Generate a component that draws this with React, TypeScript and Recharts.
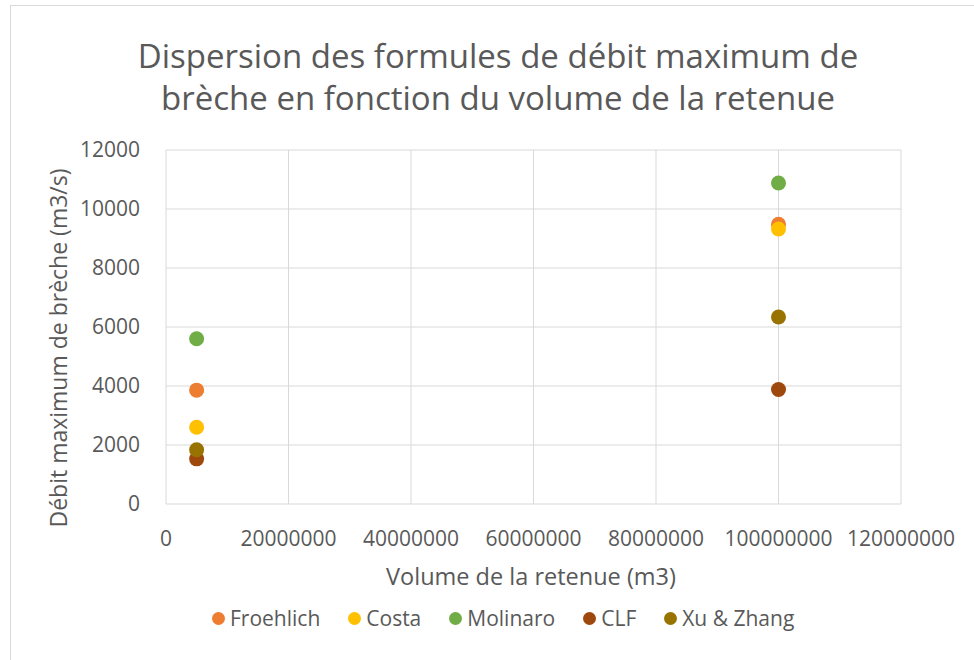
import React from "react";
import {
  ScatterChart,
  Scatter,
  XAxis,
  YAxis,
  CartesianGrid,
  Legend,
} from "recharts";

// volume de la retenue (m3)
const volumes = [5000000, 100000000];

// débit maximum de brèche (m3/s) par formule
const froehlich = [3860, 9480];
const costa = [2600, 9320];
const molinaro = [5600, 10880];
const clf = [1530, 3880];
const xuZhang = [1840, 6340];

const xTicks = [0, 20000000, 40000000, 60000000, 80000000, 100000000, 120000000];
const yTicks = [0, 2000, 4000, 6000, 8000, 10000, 12000];

const series = [
  { name: "Froehlich", values: froehlich, color: "#ED7D31" },
  { name: "Costa", values: costa, color: "#FFC000" },
  { name: "Molinaro", values: molinaro, color: "#70AD47" },
  { name: "CLF", values: clf, color: "#9E480E" },
  { name: "Xu & Zhang", values: xuZhang, color: "#997300" },
];

const FONT = "'Open Sans', sans-serif";
const TEXT = "#595959";

const toPoints = (values: number[]) =>
  volumes.map((v, i) => ({ x: v, y: values[i] }));

const Dot = (props: any) => (
  <circle cx={props.cx} cy={props.cy} r={7.5} fill={props.fill} />
);

const LegendContent = () => (
  <div style={{ display: "flex", alignItems: "center", fontFamily: FONT }}>
    {series.map((s) => (
      <div
        key={s.name}
        style={{ display: "flex", alignItems: "center", marginRight: 28 }}
      >
        <span
          style={{
            display: "inline-block",
            width: 13,
            height: 13,
            borderRadius: "50%",
            background: s.color,
            marginRight: 5,
          }}
        />
        <span style={{ fontSize: 21, color: TEXT, lineHeight: "24px" }}>
          {s.name}
        </span>
      </div>
    ))}
  </div>
);

export default function App() {
  return (
    <div
      style={{
        position: "absolute",
        left: 0,
        top: 0,
        width: 974,
        height: 660,
        overflow: "hidden",
        background: "#fff",
        fontFamily: FONT,
      }}
    >
      <div
        style={{
          position: "absolute",
          left: 10,
          top: 5,
          width: 1000,
          height: 1000,
          border: "1px solid #d9d9d9",
        }}
      />
      <div
        style={{
          position: "absolute",
          left: 0,
          top: 35,
          width: 996,
          textAlign: "center",
          fontSize: 33,
          lineHeight: "42px",
          color: TEXT,
        }}
      >
        Dispersion des formules de débit maximum de
        <br />
        brèche en fonction du volume de la retenue
      </div>
      <ScatterChart
        width={974}
        height={660}
        margin={{ top: 150, right: 73, bottom: 10, left: 0 }}
        style={{ position: "absolute", left: 0, top: 0 }}
      >
        <CartesianGrid stroke="#d9d9d9" strokeWidth={1} />
        <XAxis
          type="number"
          dataKey="x"
          domain={[0, 120000000]}
          ticks={xTicks}
          interval={0}
          height={146}
          axisLine={false}
          tickLine={false}
          tickSize={0}
          tickMargin={27}
          tick={{ fill: TEXT, fontSize: 21, fontFamily: FONT }}
        />
        <YAxis
          type="number"
          dataKey="y"
          domain={[0, 12000]}
          ticks={yTicks}
          interval={0}
          width={166}
          axisLine={false}
          tickLine={false}
          tickSize={0}
          tickMargin={26}
          tick={{ fill: TEXT, fontSize: 21, fontFamily: FONT }}
        />
        <Legend
          layout="horizontal"
          verticalAlign="middle"
          align="center"
          content={<LegendContent />}
          wrapperStyle={{ top: 606, left: 212, width: 700, height: 24 }}
        />
        {series.map((s) => (
          <Scatter
            key={s.name}
            name={s.name}
            data={toPoints(s.values)}
            fill={s.color}
            shape={<Dot />}
            isAnimationActive={false}
          />
        ))}
      </ScatterChart>
      <svg
        width={974}
        height={660}
        style={{ position: "absolute", left: 0, top: 0, pointerEvents: "none" }}
      >
        <text
          x={531}
          y={585}
          textAnchor="middle"
          fontSize={23.5}
          fill={TEXT}
          fontFamily={FONT}
        >
          Volume de la retenue (m3)
        </text>
        <text
          transform="translate(67,348) rotate(-90)"
          textAnchor="middle"
          fontSize={23}
          fill={TEXT}
          fontFamily={FONT}
        >
          Débit maximum de brèche (m3/s)
        </text>
      </svg>
    </div>
  );
}
